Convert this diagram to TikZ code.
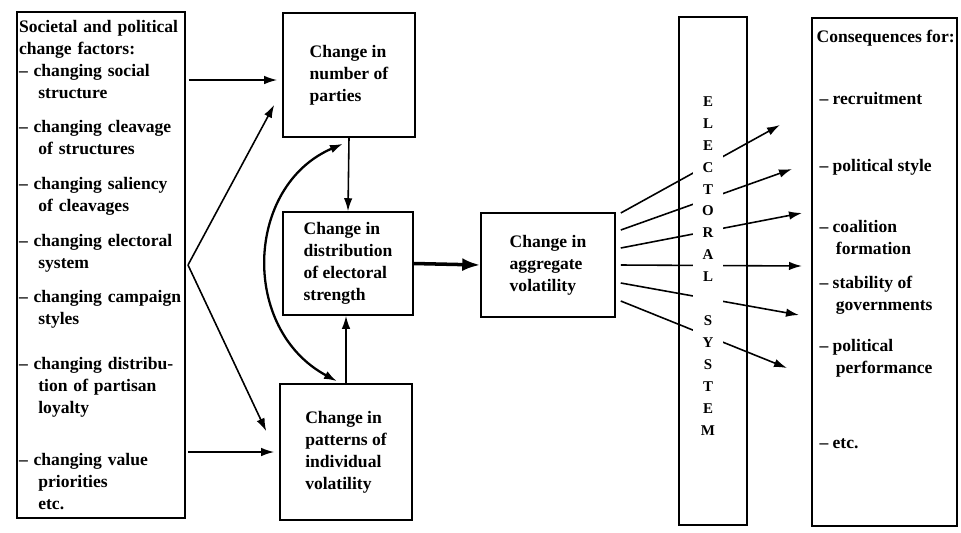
\documentclass[tikz,border=0pt]{standalone}
\usepackage{fontspec}
\setmainfont{Liberation Serif}
\usepackage{tikz}
\usetikzlibrary{calc,arrows.meta}

\newcommand{\itemind}{\hspace*{1.1em}}
\hyphenpenalty=10000
\exhyphenpenalty=10000

\begin{document}
\begin{tikzpicture}[x=0.02cm, y=-0.02cm,
  font=\fontsize{10}{12.5}\selectfont\bfseries,
  box/.style={draw, line width=0.9pt, align=left, inner sep=0pt},
  arr/.style={-{Latex[length=2.6mm,width=1.7mm]}, line width=0.9pt},
  thickarr/.style={-{Latex[length=3.6mm,width=2.6mm]}, line width=2pt},
  dblarr/.style={{Latex[length=2.6mm,width=1.7mm]}-{Latex[length=2.6mm,width=1.7mm]}, line width=1.3pt}]
  \useasboundingbox (0,0) rectangle (961,532);

  % left column
  \node[box, inner xsep=0.04cm, text width=3.28cm, minimum height=10.12cm] (factors) at (101,265)
    {Societal and political\\ change factors:\\
     -- changing social\\ \itemind structure\\[0.24cm]
     -- changing cleavage\\ \itemind of structures\\[0.26cm]
     -- changing saliency\\ \itemind of cleavages\\[0.26cm]
     -- changing electoral\\ \itemind system\\[0.24cm]
     -- changing campaign\\ \itemind styles\\[0.46cm]
     -- changing distribu-\\ \itemind tion of partisan\\ \itemind loyalty\\[0.6cm]
     -- changing value\\ \itemind priorities\\ \itemind etc.};

  % middle column
  \node[box, minimum width=2.64cm, minimum height=2.48cm] (parties) at (349,75)
    {Change in\\ number of\\ parties};
  \node[box, minimum width=2.6cm, minimum height=2.06cm] (distrib) at (348,263.5)
    {Change in\\ distribution\\ of electoral\\ strength};
  \node[box, minimum width=2.64cm, minimum height=2.72cm] (patterns) at (346,452)
    {Change in\\ patterns of\\ individual\\ volatility};
  \node[box, minimum width=2.68cm, minimum height=2.08cm] (aggregate) at (548,265)
    {Change in\\ aggregate\\ volatility};

  % right column
  \node[box, minimum width=1.36cm, minimum height=10.16cm] (elect) at (713,271) {};
  \node[box, minimum width=2.9cm, minimum height=10.16cm] (conseq) at (884.5,272) {};
  \node[align=left, anchor=north west, inner sep=0pt] (conseqtext) at ($(conseq.north west)+(5,13)$)
    {Consequences for:\\[0.8cm]
     \,-- recruitment\\[0.9cm]
     \,-- political style\\[0.78cm]
     \,-- coalition\\ \itemind formation\\[0.24cm]
     \,-- stability of\\ \itemind governments\\[0.38cm]
     \,-- political\\ \itemind performance\\[1.06cm]
     \,-- etc.};

  % factors -> boxes
  \coordinate (fork) at (188,265);
  \draw[arr] ($(factors.east |- parties.west)+(3,5)$) -- ($(parties.west)+(-5,5)$);
  \draw[arr] (fork) -- ($(parties.south west)+(-8,-33)$);
  \draw[arr] (fork) -- ($(patterns.north west)+(-13,48)$);
  \draw[arr] ($(factors.east |- patterns.west)+(2,0)$) -- ($(patterns.west)+(-5,0)$);

  \draw[arr] (parties.south) -- (distrib.north);
  \draw[arr] (patterns.north) -- (patterns.north |- distrib.south);
  \draw[dblarr] ($(patterns.north)+(-9,-2)$) .. controls +(-97,-52) and +(-98,42) .. ($(parties.south)+(-6,6)$);
  \draw[thickarr] (distrib.east) -- (aggregate.west);

  % fan of consequences
  \foreach \dy/\ex/\ey [count=\i] in {-52/780/125, -35/792/169, -17/802/213, 0/802/266, 18/799/315, 36/787/368} {
    \coordinate (tip\i) at (\ex,\ey);
    \draw[arr] ($(aggregate.east)+(5,\dy)$) -- (tip\i);
  }

  \node[fill=white, align=center, inner xsep=0.16cm, inner ysep=2pt,
        font=\fontsize{8.5}{12.5}\selectfont\bfseries] (elabel) at (708,266)
    {E\\ L\\ E\\ C\\ T\\ O\\ R\\ A\\ L\\[0.44cm] S\\ Y\\ S\\ T\\ E\\ M};
\end{tikzpicture}
\end{document}
